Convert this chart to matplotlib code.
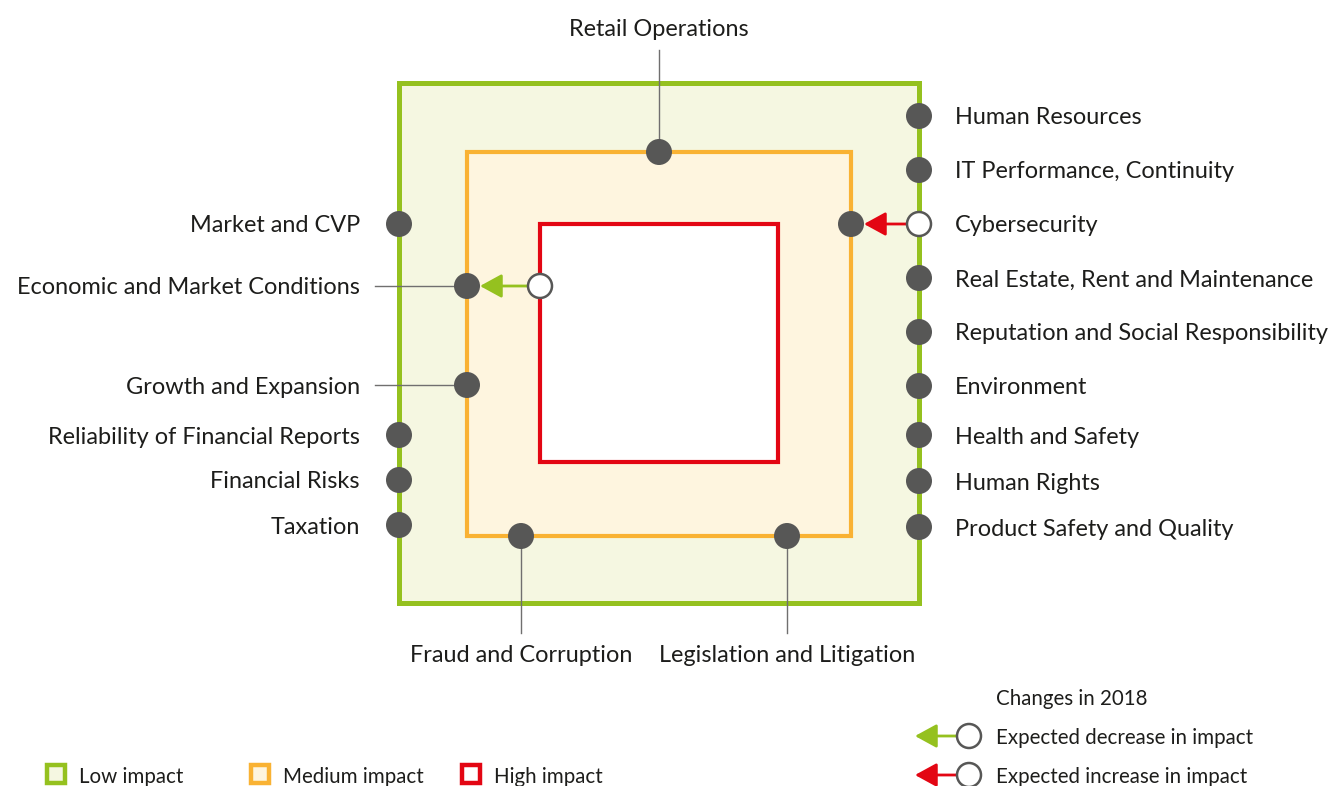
import matplotlib.pyplot as plt
from matplotlib.patches import Rectangle, Circle, FancyArrowPatch

plt.rcParams['font.family'] = ['Lato', 'DejaVu Sans']

W, H = 1331, 786
GREEN = '#95c11f'
ORANGE = '#f9b233'
RED = '#e30613'
DOT = '#575756'
TXT = '#1d1d1b'

# squares: (left, top, size) for low / medium / high impact zones
zones = {'low': (399, 83, 520), 'medium': (467, 152, 384), 'high': (540, 224, 238)}

# risks on the right edge of the low-impact zone
right_labels = ['Human Resources', 'IT Performance, Continuity', 'Cybersecurity',
                'Real Estate, Rent and Maintenance', 'Reputation and Social Responsibility',
                'Environment', 'Health and Safety', 'Human Rights', 'Product Safety and Quality']
right_y = [116, 170, 224, 278, 332, 386, 435, 481, 527]

# risks on the left edge of the low-impact zone
left_labels = ['Market and CVP', 'Reliability of Financial Reports', 'Financial Risks', 'Taxation']
left_y = [224, 435, 480, 525]

# risks on the left edge of the medium zone (with leader lines)
mid_left_labels = ['Economic and Market Conditions', 'Growth and Expansion']
mid_left_y = [286, 385]

# top / bottom of the medium zone
top_labels = ['Retail Operations']
top_x = [659]
bottom_labels = ['Fraud and Corruption', 'Legislation and Litigation']
bottom_x = [521, 787]

fig = plt.figure(figsize=(W / 100, H / 100), dpi=100)
ax = fig.add_axes([0, 0, 1, 1])
ax.set_xlim(0, W)
ax.set_ylim(H, 0)
ax.axis('off')

fills = {'low': '#f5f7e1', 'medium': '#fef5df', 'high': '#ffffff'}
edges = {'low': GREEN, 'medium': ORANGE, 'high': RED}
lws = {'low': 3.6, 'medium': 3.0, 'high': 3.0}
for k, (x0, y0, s) in zones.items():
    ax.add_patch(Rectangle((x0, y0), s, s, facecolor=fills[k], edgecolor=edges[k],
                           lw=lws[k], zorder=1))

R = 13
FS = 16.9
FS2 = 14.8
DY = 2  # text sits a bit below the dot centre


def dot(x, y, filled=True):
    if filled:
        ax.add_patch(Circle((x, y), R, facecolor=DOT, edgecolor='none', zorder=5))
    else:
        ax.add_patch(Circle((x, y), R - 1, facecolor='white', edgecolor=DOT, lw=1.8, zorder=5))


def arrow(x1, x2, y, color):
    ax.add_patch(FancyArrowPatch((x1, y), (x2, y), arrowstyle='-|>,head_length=9.5,head_width=5.2',
                                 color=color, lw=2, mutation_scale=1.4, zorder=4,
                                 shrinkA=0, shrinkB=0))


gx = zones['low'][0] + zones['low'][2]
lx = zones['low'][0]
mx = zones['medium'][0]
mx2 = zones['medium'][0] + zones['medium'][2]
my = zones['medium'][1]
my2 = zones['medium'][1] + zones['medium'][2]
hx = zones['high'][0]

for lab, y in zip(right_labels, right_y):
    if lab == 'Cybersecurity':
        dot(gx, y, filled=False)
        dot(mx2, y)
        arrow(gx - R, mx2 + R, y, RED)
    else:
        dot(gx, y)
    ax.text(955, y + DY, lab, fontsize=FS, color=TXT, va='center', ha='left')

for lab, y in zip(left_labels, left_y):
    dot(lx, y)
    ax.text(360, y + DY, lab, fontsize=FS, color=TXT, va='center', ha='right')

for lab, y in zip(mid_left_labels, mid_left_y):
    ax.plot([375, mx], [y, y], color='#706f6f', lw=1, zorder=3)
    dot(mx, y)
    if lab.startswith('Economic'):
        dot(hx, y, filled=False)
        arrow(hx - R, mx + R, y, GREEN)
    ax.text(360, y + DY, lab, fontsize=FS, color=TXT, va='center', ha='right')

for lab, x in zip(top_labels, top_x):
    ax.plot([x, x], [50, my], color='#706f6f', lw=1, zorder=3)
    dot(x, my)
    ax.text(x, 27 + DY, lab, fontsize=FS, color=TXT, va='center', ha='center')

for lab, x in zip(bottom_labels, bottom_x):
    ax.plot([x, x], [my2, 633], color='#706f6f', lw=1, zorder=3)
    dot(x, my2)
    ax.text(x, 654 + DY, lab, fontsize=FS, color=TXT, va='center', ha='center')

# impact legend
leg_labels = ['Low impact', 'Medium impact', 'High impact']
leg_keys = ['low', 'medium', 'high']
leg_x = [45, 249, 460]
for lab, k, x in zip(leg_labels, leg_keys, leg_x):
    ax.add_patch(Rectangle((x + 2, 765), 18, 18, facecolor=fills[k], edgecolor=edges[k],
                           lw=3.2, zorder=2))
    ax.text(x + 34, 775 + DY, lab, fontsize=FS2, color=TXT, va='center', ha='left')

# changes legend
ax.text(996, 697 + DY, 'Changes in 2018', fontsize=FS2, color=TXT, va='center', ha='left')
chg_labels = ['Expected decrease in impact', 'Expected increase in impact']
chg_colors = [GREEN, RED]
chg_y = [736, 775]
for lab, c, y in zip(chg_labels, chg_colors, chg_y):
    dot(969, y, filled=False)
    arrow(969 - R, 915, y, c)
    ax.text(996, y + DY, lab, fontsize=FS2, color=TXT, va='center', ha='left')

fig.savefig('out.png', dpi=100)
